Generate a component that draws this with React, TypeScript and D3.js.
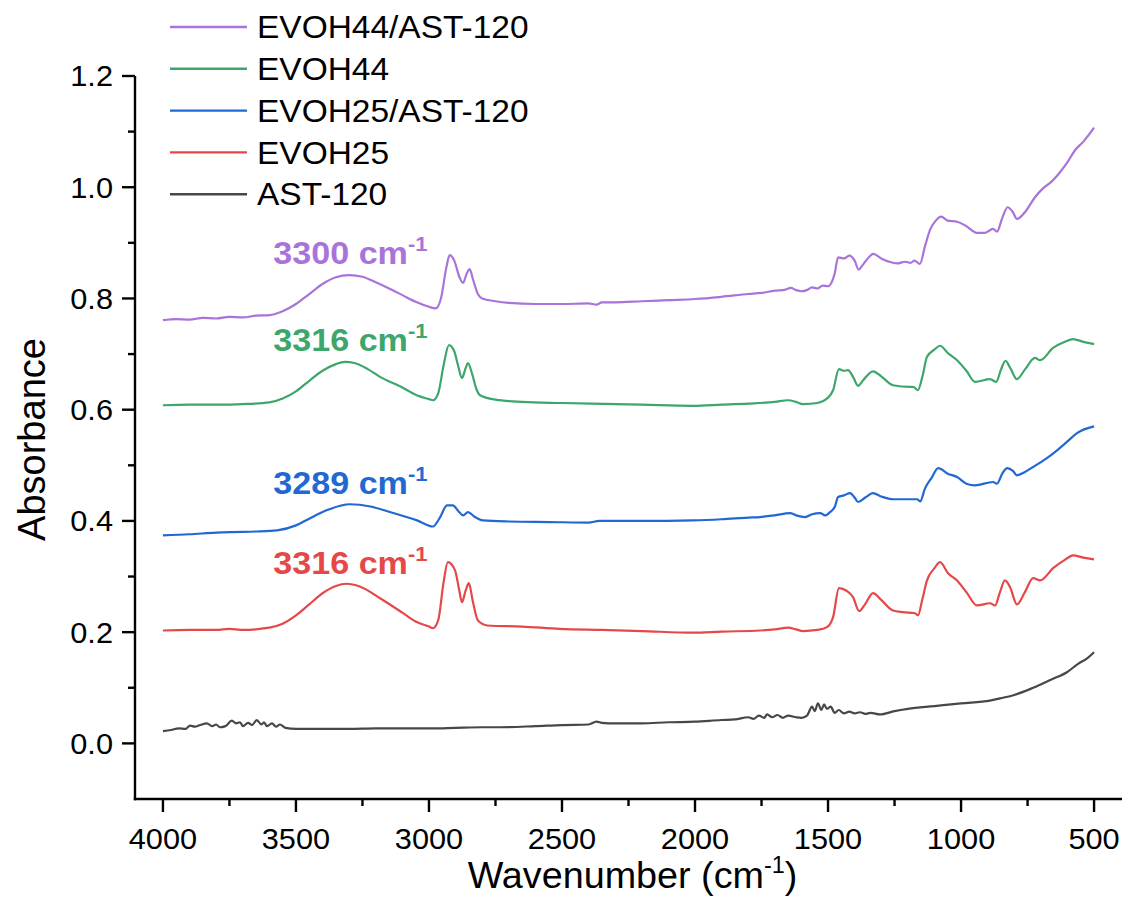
import React from 'react';
import * as d3 from 'd3';

// FTIR spectra, [wavenumber, absorbance]
const evoh44Ast: [number, number][] = [
  [4000, 0.761], [3950, 0.763], [3900, 0.762], [3850, 0.765], [3800, 0.764], [3750, 0.767],
  [3700, 0.766], [3650, 0.769], [3600, 0.770], [3550, 0.777], [3500, 0.790], [3450, 0.808],
  [3400, 0.826], [3350, 0.838], [3300, 0.842], [3250, 0.839], [3200, 0.829], [3150, 0.818],
  [3100, 0.806], [3050, 0.794], [3000, 0.785], [2975, 0.782], [2955, 0.800], [2935, 0.855],
  [2922, 0.878], [2905, 0.868], [2885, 0.838], [2872, 0.828], [2858, 0.845], [2847, 0.853],
  [2835, 0.835], [2815, 0.807], [2800, 0.800], [2750, 0.795], [2700, 0.792], [2600, 0.790],
  [2500, 0.790], [2400, 0.791], [2370, 0.789], [2350, 0.793], [2300, 0.793], [2200, 0.795],
  [2100, 0.797], [2000, 0.799], [1900, 0.803], [1800, 0.808], [1750, 0.810], [1700, 0.814],
  [1660, 0.816], [1640, 0.819], [1620, 0.815], [1600, 0.813], [1580, 0.815], [1560, 0.820],
  [1540, 0.818], [1520, 0.823], [1500, 0.822], [1490, 0.826], [1475, 0.845], [1462, 0.874],
  [1440, 0.872], [1420, 0.877], [1400, 0.868], [1385, 0.852], [1370, 0.860], [1345, 0.875],
  [1330, 0.880], [1300, 0.872], [1270, 0.866], [1240, 0.863], [1210, 0.866], [1190, 0.864],
  [1175, 0.868], [1155, 0.862], [1135, 0.895], [1117, 0.923], [1095, 0.940], [1075, 0.947],
  [1050, 0.940], [1015, 0.938], [980, 0.930], [940, 0.918], [910, 0.918], [880, 0.925],
  [865, 0.920], [845, 0.945], [825, 0.964], [805, 0.955], [790, 0.943], [760, 0.955],
  [722, 0.982], [692, 0.998], [660, 1.010], [628, 1.027], [600, 1.045], [571, 1.067],
  [540, 1.082], [500, 1.107],
];

const evoh44: [number, number][] = [
  [4000, 0.608], [3900, 0.609], [3800, 0.609], [3700, 0.610], [3600, 0.613], [3550, 0.620],
  [3500, 0.633], [3450, 0.652], [3400, 0.670], [3350, 0.682], [3316, 0.686], [3280, 0.684],
  [3230, 0.673], [3184, 0.659], [3100, 0.640], [3050, 0.627], [3000, 0.619], [2985, 0.617],
  [2965, 0.630], [2945, 0.680], [2925, 0.716], [2905, 0.705], [2890, 0.678], [2876, 0.657],
  [2862, 0.675], [2853, 0.684], [2840, 0.668], [2820, 0.635], [2808, 0.626], [2750, 0.618],
  [2650, 0.614], [2500, 0.612], [2300, 0.610], [2200, 0.609], [2008, 0.607], [1900, 0.609],
  [1800, 0.611], [1700, 0.614], [1650, 0.617], [1620, 0.614], [1594, 0.610], [1540, 0.612],
  [1504, 0.620], [1481, 0.635], [1459, 0.673], [1440, 0.670], [1425, 0.671], [1406, 0.659],
  [1387, 0.643], [1368, 0.653], [1331, 0.669], [1300, 0.660], [1256, 0.644], [1192, 0.641],
  [1180, 0.641], [1162, 0.635], [1145, 0.660], [1128, 0.695], [1100, 0.708], [1079, 0.715],
  [1050, 0.702], [1015, 0.689], [980, 0.670], [947, 0.650], [891, 0.655], [868, 0.650],
  [850, 0.672], [833, 0.688], [815, 0.675], [790, 0.655], [760, 0.672], [722, 0.693],
  [703, 0.689], [654, 0.711], [610, 0.722], [579, 0.727], [540, 0.722], [500, 0.718],
];

const evoh25Ast: [number, number][] = [
  [4000, 0.374], [3900, 0.376], [3800, 0.379], [3748, 0.380], [3650, 0.381], [3571, 0.383],
  [3500, 0.392], [3447, 0.405], [3380, 0.420], [3297, 0.430], [3220, 0.426], [3147, 0.416],
  [3045, 0.401], [2985, 0.390], [2960, 0.405], [2932, 0.428], [2910, 0.428], [2890, 0.418],
  [2872, 0.410], [2853, 0.416], [2830, 0.408], [2797, 0.401], [2700, 0.399], [2545, 0.398],
  [2400, 0.397], [2360, 0.400], [2200, 0.400], [2008, 0.401], [1900, 0.403], [1800, 0.406],
  [1756, 0.407], [1700, 0.410], [1643, 0.414], [1620, 0.410], [1586, 0.407], [1560, 0.412],
  [1530, 0.414], [1510, 0.410], [1492, 0.416], [1475, 0.425], [1462, 0.443], [1440, 0.446],
  [1417, 0.450], [1400, 0.442], [1387, 0.434], [1360, 0.442], [1331, 0.450], [1300, 0.444],
  [1256, 0.439], [1165, 0.439], [1154, 0.435], [1135, 0.459], [1110, 0.478], [1086, 0.495],
  [1050, 0.485], [1015, 0.479], [980, 0.467], [947, 0.464], [880, 0.470], [865, 0.467],
  [845, 0.485], [827, 0.495], [805, 0.490], [790, 0.482], [760, 0.488], [729, 0.497],
  [680, 0.512], [639, 0.527], [600, 0.543], [564, 0.558], [500, 0.570],
];

const evoh25: [number, number][] = [
  [4000, 0.203], [3900, 0.204], [3800, 0.204], [3750, 0.206], [3700, 0.204], [3600, 0.208],
  [3550, 0.215], [3500, 0.230], [3450, 0.250], [3400, 0.270], [3350, 0.283], [3310, 0.287],
  [3260, 0.282], [3184, 0.261], [3100, 0.235], [3050, 0.219], [3000, 0.210], [2985, 0.207],
  [2965, 0.222], [2945, 0.290], [2929, 0.326], [2902, 0.311], [2888, 0.280], [2876, 0.254],
  [2862, 0.275], [2850, 0.288], [2835, 0.255], [2816, 0.221], [2780, 0.212], [2650, 0.210],
  [2508, 0.206], [2350, 0.204], [2200, 0.202], [2008, 0.199], [1900, 0.201], [1756, 0.203],
  [1700, 0.205], [1650, 0.208], [1620, 0.205], [1594, 0.202], [1540, 0.204], [1504, 0.209],
  [1481, 0.227], [1459, 0.279], [1429, 0.274], [1406, 0.263], [1383, 0.238], [1361, 0.250],
  [1331, 0.270], [1300, 0.258], [1256, 0.239], [1218, 0.236], [1173, 0.234], [1162, 0.230],
  [1145, 0.260], [1128, 0.293], [1100, 0.315], [1079, 0.326], [1049, 0.306], [1015, 0.293],
  [980, 0.272], [940, 0.248], [891, 0.252], [872, 0.248], [855, 0.270], [835, 0.293],
  [815, 0.280], [790, 0.250], [760, 0.272], [729, 0.297], [703, 0.293], [654, 0.315],
  [610, 0.330], [579, 0.338], [540, 0.334], [500, 0.331],
];

const ast120: [number, number][] = [
  [4000, 0.022], [3970, 0.024], [3940, 0.027], [3915, 0.026], [3898, 0.032], [3880, 0.030],
  [3860, 0.033], [3835, 0.036], [3815, 0.031], [3800, 0.034], [3786, 0.029], [3765, 0.031],
  [3741, 0.041], [3725, 0.036], [3710, 0.038], [3699, 0.031], [3680, 0.037], [3665, 0.033],
  [3647, 0.042], [3630, 0.034], [3620, 0.038], [3609, 0.031], [3590, 0.036], [3575, 0.030],
  [3560, 0.034], [3540, 0.028], [3500, 0.026], [3400, 0.026], [3300, 0.026], [3200, 0.027],
  [3100, 0.027], [2985, 0.027], [2900, 0.028], [2800, 0.029], [2733, 0.029], [2600, 0.031],
  [2500, 0.033], [2400, 0.034], [2370, 0.039], [2350, 0.037], [2300, 0.036], [2200, 0.036],
  [2100, 0.038], [2000, 0.039], [1900, 0.042], [1850, 0.043], [1800, 0.047], [1780, 0.044],
  [1760, 0.050], [1740, 0.046], [1729, 0.052], [1710, 0.047], [1690, 0.051], [1670, 0.046],
  [1650, 0.050], [1620, 0.047], [1600, 0.046], [1579, 0.050], [1560, 0.066], [1550, 0.058],
  [1538, 0.072], [1525, 0.060], [1515, 0.070], [1504, 0.062], [1490, 0.066], [1475, 0.055],
  [1460, 0.060], [1440, 0.054], [1420, 0.057], [1400, 0.054], [1380, 0.056], [1360, 0.053],
  [1340, 0.055], [1305, 0.052], [1250, 0.058], [1200, 0.062], [1100, 0.067], [1000, 0.072],
  [891, 0.077], [853, 0.081], [800, 0.087], [729, 0.100], [660, 0.115], [602, 0.128],
  [560, 0.143], [526, 0.153], [500, 0.164],
];

const seriesNames = ['EVOH44/AST-120', 'EVOH44', 'EVOH25/AST-120', 'EVOH25', 'AST-120'];
const seriesColors = ['#a874d9', '#3ca66b', '#2168d2', '#e54848', '#474747'];
const seriesData = [evoh44Ast, evoh44, evoh25Ast, evoh25, ast120];

// peak labels: text, wavenumber at left edge, absorbance at baseline
const peakLabels = ['3300', '3316', '3289', '3316'];
const peakLabelPos: [number, number][] = [[3585, 0.862], [3585, 0.705], [3585, 0.448], [3585, 0.304]];

const xMajor = [4000, 3500, 3000, 2500, 2000, 1500, 1000, 500];
const xMinor = [3750, 3250, 2750, 2250, 1750, 1250, 750];
const yMajor = [0, 0.2, 0.4, 0.6, 0.8, 1.0, 1.2];
const yMinor = [0.1, 0.3, 0.5, 0.7, 0.9, 1.1];

const font = '"Liberation Sans", Arial, sans-serif';

export default function App() {
  const width = 1126, height = 907;
  const left = 135, right = 1122, top = 76, bottom = 799;

  const x = d3.scaleLinear().domain([4105, 395]).range([left, right]);
  const y = d3.scaleLinear().domain([-0.1, 1.2]).range([bottom, top]);

  const line = d3.line<[number, number]>()
    .x(d => x(d[0]))
    .y(d => y(d[1]))
    .curve(d3.curveMonotoneX);

  // the source text is drawn a little wider than Liberation Sans
  const at = (px: number, py: number, sx: number) => `translate(${px},${py}) scale(${sx},1)`;

  return (
    <svg width={width} height={height} style={{ position: 'absolute', left: 0, top: 0, background: '#fff' }}
         fontFamily={font}>
      {seriesData.map((s, i) => (
        <path key={seriesNames[i]} d={line(s) || ''} fill="none" stroke={seriesColors[i]}
              strokeWidth={2.2} strokeLinejoin="round" />
      ))}

      {/* axes */}
      <g stroke="#000" strokeWidth={2.4}>
        <line x1={left - 1.2} x2={right} y1={bottom} y2={bottom} />
        <line x1={left} x2={left} y1={top} y2={bottom + 1.2} />
        {xMajor.map(t => <line key={'xM' + t} x1={x(t)} x2={x(t)} y1={bottom} y2={bottom + 13} />)}
        {xMinor.map(t => <line key={'xm' + t} x1={x(t)} x2={x(t)} y1={bottom} y2={bottom + 7} />)}
        {yMajor.map(t => <line key={'yM' + t} x1={left} x2={left - 13} y1={y(t)} y2={y(t)} />)}
        {yMinor.map(t => <line key={'ym' + t} x1={left} x2={left - 7} y1={y(t)} y2={y(t)} />)}
      </g>
      <g fontSize={29} fill="#000">
        {xMajor.map(t => (
          <text key={'xl' + t} transform={at(x(t), 849, 1.06)} textAnchor="middle">{t}</text>
        ))}
        {yMajor.map(t => (
          <text key={'yl' + t} transform={at(113, y(t), 1.06)} dy="0.36em" textAnchor="end">
            {d3.format('.1f')(t)}
          </text>
        ))}
      </g>
      <text transform={at((left + right) / 2 + 4, 888, 1.02)} textAnchor="middle" fontSize={37}>
        Wavenumber (cm<tspan fontSize={23} dy={-15}>-1</tspan><tspan dy={15}>)</tspan>
      </text>
      <text transform={`translate(45, ${(top + bottom) / 2 + 2}) rotate(-90)`} textAnchor="middle" fontSize={38}>
        Absorbance
      </text>

      {/* peak labels */}
      {peakLabels.map((p, i) => (
        <text key={'pk' + i} transform={at(x(peakLabelPos[i][0]), y(peakLabelPos[i][1]), 1.1)} fontSize={31}
              fontWeight="bold" fill={seriesColors[i]}>
          {p} cm<tspan fontSize={20} dy={-13}>-1</tspan>
        </text>
      ))}

      {/* legend */}
      {seriesNames.map((n, i) => {
        const cy = 27 + i * 41.8;
        return (
          <g key={'lg' + n}>
            <line x1={170} x2={247} y1={cy} y2={cy} stroke={seriesColors[i]} strokeWidth={2.4} />
            <text transform={at(257, cy, 1.08)} dy="0.36em" fontSize={31}>{n}</text>
          </g>
        );
      })}
    </svg>
  );
}
